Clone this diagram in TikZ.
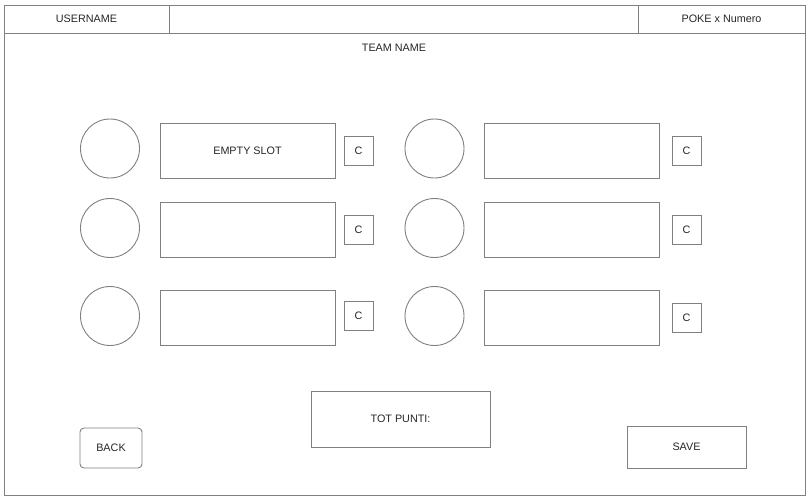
\documentclass[tikz,border=0pt]{standalone}
\usepackage{fontspec}
\setmainfont{Liberation Sans}
\usetikzlibrary{positioning}
\tikzset{
    uiline/.style={draw=black!50, line width=0.9pt},
    uitext/.style={font=\fontsize{10.8}{13}\selectfont, text=black!85},
    headcell/.style={uiline, uitext, rectangle, minimum height=28pt, inner sep=0pt},
    avatar/.style={uiline, circle, minimum size=59pt, inner sep=0pt},
    slotbox/.style={uiline, uitext, rectangle, minimum width=175pt, minimum height=55pt, inner sep=0pt},
    cbtn/.style={uiline, uitext, rectangle, minimum size=29pt, inner sep=0pt},
}
\begin{document}
\begin{tikzpicture}[x=1pt,y=-1pt]
    \useasboundingbox (0,0) rectangle (808,499);
    % outer frame and header
    \draw[uiline] (4,5) rectangle (805,495);
    \node[headcell, minimum width=165pt] (user)  at (86.5,19)  {USERNAME};
    \node[headcell, minimum width=469pt] (title) at (403.5,19) {};
    \node[headcell, minimum width=167pt] (poke)  at (721.5,19) {POKE x Numero};
    \node[uitext] (team) at (394,48) {TEAM NAME};
    % left column
    \node[avatar]  (av1)  at (110,148.5) {};
    \node[slotbox] (sl1)  at (247.5,150.5) {EMPTY SLOT};
    \node[cbtn]    (cb1)  at (358.5,150.5) {C};
    \node[avatar]  (av2)  at (110,228) {};
    \node[slotbox] (sl2)  at (247.5,230) {};
    \node[cbtn]    (cb2)  at (358.5,229.5) {C};
    \node[avatar]  (av3)  at (110,316) {};
    \node[slotbox] (sl3)  at (247.5,318) {};
    \node[cbtn]    (cb3)  at (358.5,316) {C};
    % right column
    \node[avatar]  (av4)  at (434.5,148.5) {};
    \node[slotbox] (sl4)  at (572,150.5) {};
    \node[cbtn]    (cb4)  at (686.5,150.5) {C};
    \node[avatar]  (av5)  at (434.5,228) {};
    \node[slotbox] (sl5)  at (572,230) {};
    \node[cbtn]    (cb5)  at (686.5,229.5) {C};
    \node[avatar]  (av6)  at (434.5,316) {};
    \node[slotbox] (sl6)  at (572,318) {};
    \node[cbtn]    (cb6)  at (686.5,318) {C};
    % bottom bar
    \node[slotbox, minimum width=179pt, minimum height=56pt] (tot) at (400.5,419) {TOT PUNTI:};
    \node[cbtn, minimum width=62pt, minimum height=40pt, rounded corners=4pt] (back) at (111,448) {BACK};
    \node[cbtn, minimum width=119pt, minimum height=42pt] (save) at (686.5,447) {SAVE};
\end{tikzpicture}
\end{document}
